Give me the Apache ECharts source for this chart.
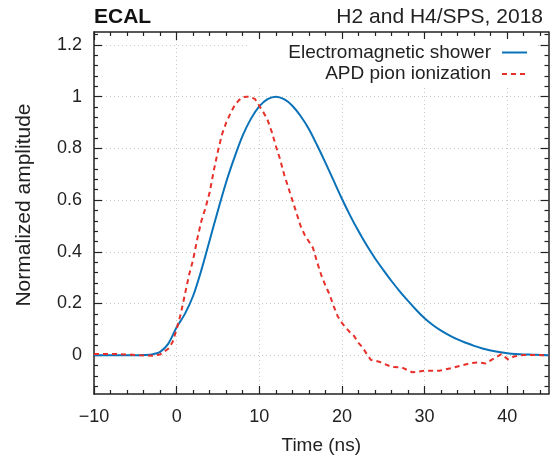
<!DOCTYPE html>
<html>
<head>
<meta charset="utf-8">
<script src="https://cdn.jsdelivr.net/npm/echarts@6/dist/echarts.min.js"></script>
<style>
html,body{margin:0;padding:0;background:#fff;}
#chart{width:551px;height:461px;}
</style>
</head>
<body>
<div id="chart"></div>
<script>
// ---- data ----
const showerTime = [-10,-9,-8,-7,-6,-5,-4,-3,-2,-1,0,1,2,3,4,5,6,7,8,9,10,11,12,13,14,15,16,17,18,19,20,21,22,23,24,25,26,27,28,29,30,31,32,33,34,35,36,37,38,39,40,41,42,43,44,45];
const showerAmp  = [0,0,0,0,0,0,0.001,0.003,0.013,0.045,0.108,0.16,0.23,0.33,0.445,0.56,0.67,0.765,0.85,0.915,0.962,0.99,1.0,0.99,0.965,0.925,0.875,0.812,0.745,0.675,0.605,0.54,0.48,0.425,0.375,0.33,0.287,0.247,0.21,0.175,0.143,0.117,0.095,0.077,0.061,0.048,0.036,0.026,0.018,0.012,0.008,0.005,0.003,0.002,0.001,0];

const pionTime = [-10,-8,-6,-4.5,-3,-2,-1,-0.5,0,0.5,1,1.5,2,2.5,3,3.5,4,4.5,5,5.5,6,6.5,7,7.5,8,8.5,9,9.5,10,10.5,11,11.5,12,12.5,13,13.5,14,14.5,15,15.5,16,16.5,17,17.5,18,18.5,19,19.5,20,20.5,21,21.5,22,22.5,23,23.5,24.5,26,27.3,28.5,30,31.8,33.5,35.5,36.6,37.4,38.2,39.3,40.1,40.8,42,45];
const pionAmp  = [0.005,0.005,0.003,0,-0.002,0.003,0.025,0.05,0.1,0.16,0.235,0.31,0.37,0.45,0.52,0.57,0.63,0.715,0.79,0.855,0.9,0.935,0.965,0.985,0.998,1.0,0.998,0.99,0.965,0.94,0.91,0.865,0.81,0.76,0.7,0.65,0.6,0.55,0.5,0.465,0.44,0.415,0.36,0.31,0.27,0.235,0.19,0.15,0.125,0.105,0.088,0.073,0.048,0.03,0.005,-0.018,-0.025,-0.045,-0.048,-0.066,-0.06,-0.06,-0.048,-0.031,-0.028,-0.032,-0.016,0.004,-0.016,-0.005,0.001,0];

const seriesNames = ['Electromagnetic shower', 'APD pion ionization'];

// ---- axis ticks ----
const xMajor = [-10,0,10,20,30,40];
const xMinor = [-8,-6,-4,-2,2,4,6,8,12,14,16,18,22,24,26,28,32,34,36,38,42,44];
const yMajor = [0,0.2,0.4,0.6,0.8,1,1.2];
const yMinor = [-0.12,-0.08,-0.04,0.04,0.08,0.12,0.16,0.24,0.28,0.32,0.36,0.44,0.48,0.52,0.56,0.64,0.68,0.72,0.76,0.84,0.88,0.92,0.96,1.04,1.08,1.12,1.16,1.24];

const xMin = -10, xMax = 45, yMin = -0.15, yMax = 1.25;

const FONT = '"Liberation Sans", Arial, sans-serif';
const frameColor = '#222';

function pairs(xs, ys){ return xs.map((x,i)=>[x, ys[i]]); }

function xAx(pos, vals, len, main){
  return {
    type:'value', position:pos, min:xMin, max:xMax,
    axisLine:{show:main, onZero:false, lineStyle:{color:frameColor, width:1.5}},
    axisTick:{show:true, inside:true, length:len, customValues:vals, lineStyle:{color:frameColor, width:1.2}},
    axisLabel:{show: main && pos==='bottom', customValues: xMajor, margin:14, fontSize:18, fontFamily:FONT, color:'#222',
      formatter: v => v < 0 ? '\u2212' + Math.abs(v) : String(v)},
    splitLine:{show: main && pos==='bottom', lineStyle:{color:'#c8c8c8', type:[1,3], width:1}},
    name: (main && pos==='bottom') ? 'Time (ns)' : '',
    nameLocation:'middle', nameGap:42,
    nameTextStyle:{fontSize:19, fontFamily:FONT, color:'#222'}
  };
}
function yAx(pos, vals, len, main){
  return {
    type:'value', position:pos, min:yMin, max:yMax,
    axisLine:{show:main, onZero:false, lineStyle:{color:frameColor, width:1.5}},
    axisTick:{show:true, inside:true, length:len, customValues:vals, lineStyle:{color:frameColor, width:1.2}},
    axisLabel:{show: main && pos==='left', customValues: yMajor, margin:12, fontSize:18, fontFamily:FONT, color:'#222'},
    splitLine:{show: main && pos==='left', lineStyle:{color:'#c8c8c8', type:[1,3], width:1}},
    name: (main && pos==='left') ? 'Normalized amplitude' : '',
    nameLocation:'middle', nameGap:59, nameRotate:90,
    nameTextStyle:{fontSize:21, fontFamily:FONT, color:'#222', padding:[0,0,0,16]}
  };
}

const chart = echarts.init(document.getElementById('chart'), null, {renderer:'canvas'});
chart.setOption({
  backgroundColor:'#fff',
  animation:false,
  title:[
    {text:'ECAL', left:94, top:7, padding:0, textStyle:{fontSize:21, fontWeight:'bold', fontFamily:FONT, color:'#111'}},
    {text:'H2 and H4/SPS, 2018', right:8, top:7, padding:0, textStyle:{fontSize:21, fontWeight:'normal', fontFamily:FONT, color:'#222'}}
  ],
  grid:{left:94, right:2.5, top:32, bottom:67, containLabel:false},
  xAxis:[ xAx('bottom', xMajor, 8, true), xAx('bottom', xMinor, 4, false), xAx('top', xMajor, 8, true), xAx('top', xMinor, 4, false) ],
  yAxis:[ yAx('left', yMajor, 8, true), yAx('left', yMinor, 4, false), yAx('right', yMajor, 8, true), yAx('right', yMinor, 4, false) ],
  legend:{
    orient:'vertical', align:'right', right:13, top:39,
    padding:[3,10,3,39], itemGap:0.6, itemWidth:25, itemHeight:14,
    backgroundColor:'#fff',
    itemStyle:{opacity:0},
    textStyle:{fontSize:19, fontFamily:FONT, color:'#222', lineHeight:21, padding:[0,6,0,0]},
    data: seriesNames
  },
  series:[
    {name:seriesNames[0], type:'line', data:pairs(showerTime, showerAmp), xAxisIndex:0, yAxisIndex:0,
     smooth:0.3, symbol:'none', lineStyle:{color:'#0a72b8', width:2}, itemStyle:{color:'#0a72b8'}, z:3},
    {name:seriesNames[1], type:'line', data:pairs(pionTime, pionAmp), xAxisIndex:0, yAxisIndex:0,
     smooth:false, symbol:'none', lineStyle:{color:'#e8302a', width:2, type:[5,4]}, itemStyle:{color:'#e8302a'}, z:4}
  ]
});
</script>
</body>
</html>
